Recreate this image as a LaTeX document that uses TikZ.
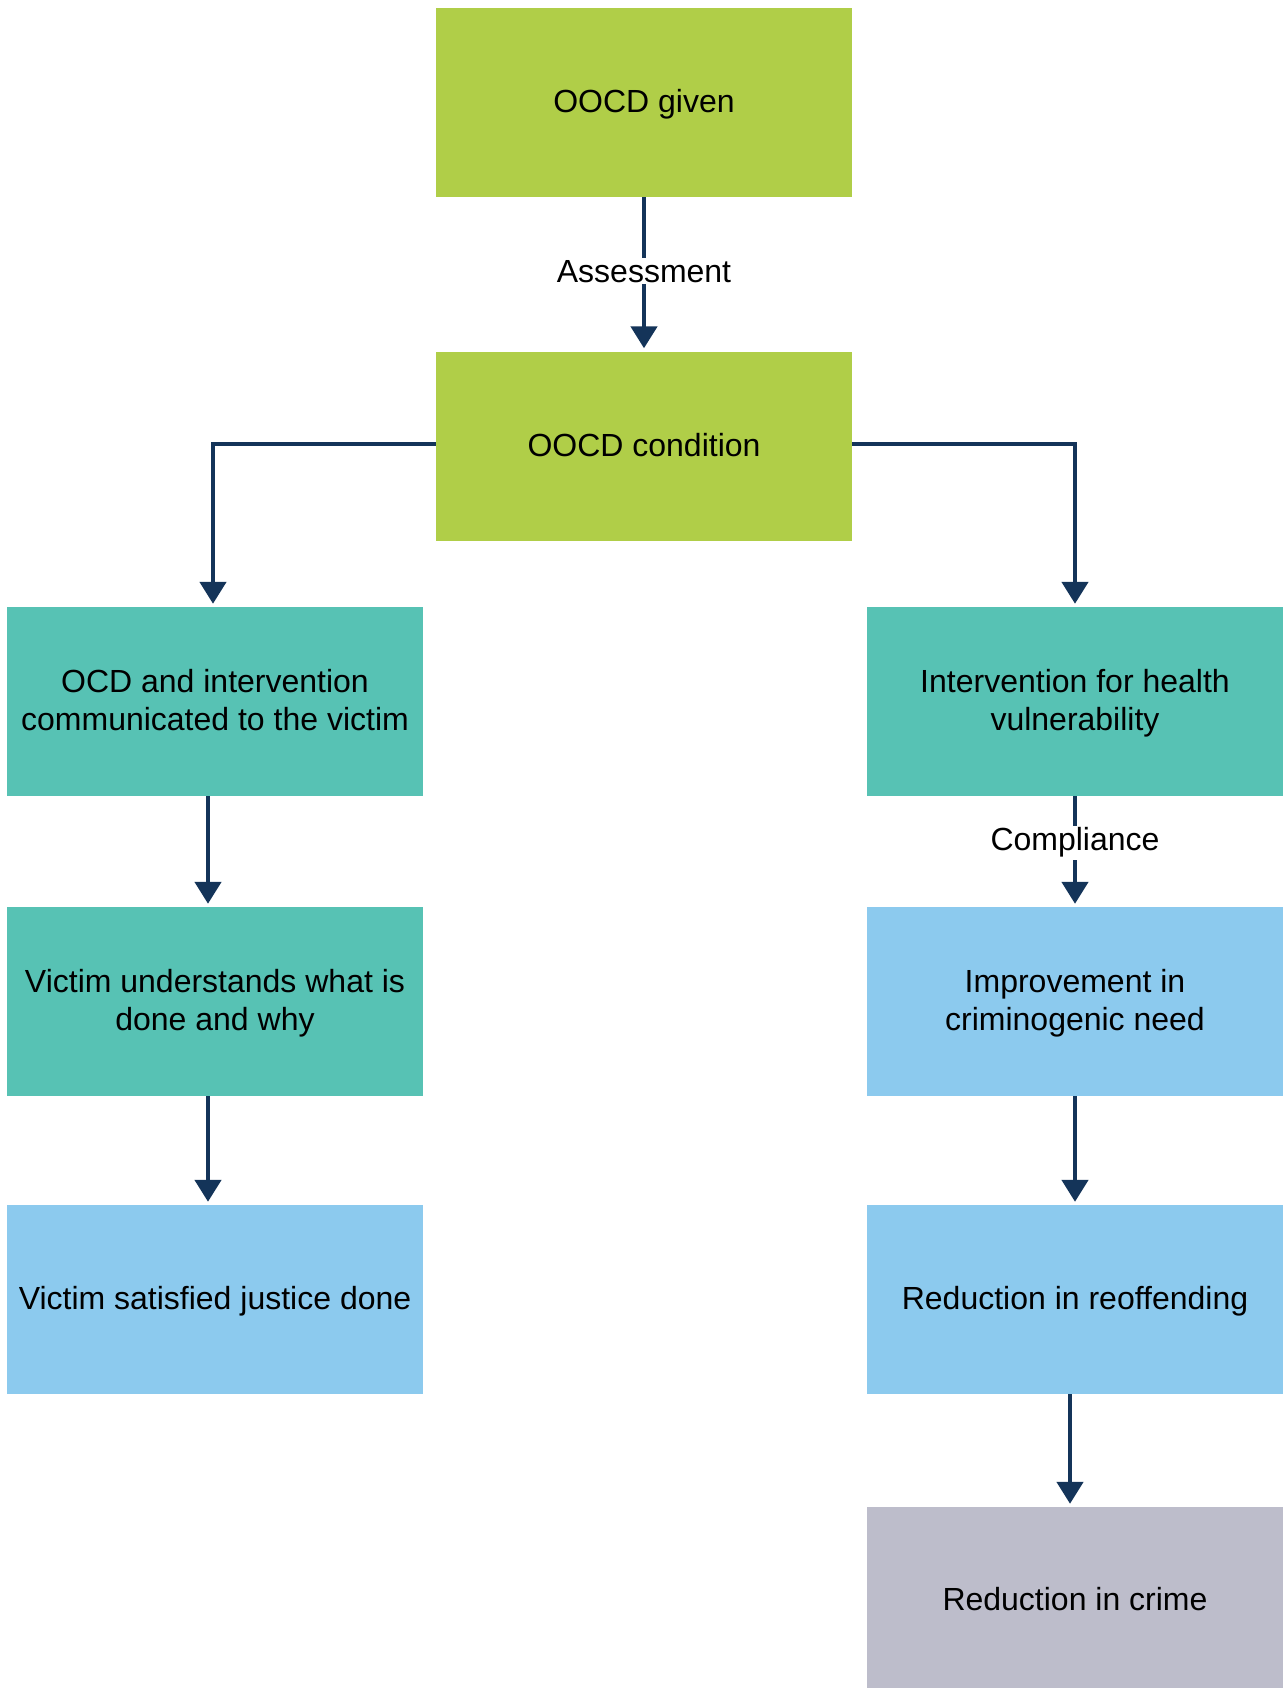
\documentclass[tikz,border=0pt]{standalone}
\usepackage{fontspec}
\setmainfont{Liberation Sans}
\usetikzlibrary{arrows.meta}
\definecolor{cgreen}{HTML}{B0CE48}
\definecolor{cteal}{HTML}{57C2B4}
\definecolor{cblue}{HTML}{8CCAEE}
\definecolor{cgray}{HTML}{BDBDCB}
\definecolor{cnavy}{HTML}{143459}
\newcommand\mys{\rule[-8.9pt]{0pt}{38pt}}
\tikzset{
  box/.style={rectangle, minimum width=416pt, minimum height=189pt, inner sep=0pt,
    align=center, font=\fontsize{32}{38}\selectfont, text=black},
  arr/.style={draw=cnavy, line width=4.6pt, -{Triangle[width=26pt,length=22pt]}, shorten >=3pt},
  lbl/.style={fill=white, inner sep=2pt, font=\fontsize{32}{38}\selectfont, text=black}
}
\begin{document}
\begin{tikzpicture}[x=1pt,y=-1pt]
\useasboundingbox[fill=white] (0,0) rectangle (1285,1688);
\node[box, fill=cgreen] (given) at (644,102.5) {\mys OOCD given};
\node[box, fill=cgreen] (cond) at (644,446) {\mys OOCD condition};
\node[box, fill=cteal] (ocd) at (215,701.5) {\mys OCD and intervention\\\mys communicated to the victim};
\node[box, fill=cteal] (vu) at (215,1001.5) {\mys Victim understands what is\\\mys done and why};
\node[box, fill=cblue] (vs) at (215,1299.5) {\mys Victim satisfied justice done};
\node[box, fill=cteal] (ih) at (1075,701.5) {\mys Intervention for health\\\mys vulnerability};
\node[box, fill=cblue] (imp) at (1075,1001.5) {\mys Improvement in\\\mys criminogenic need};
\node[box, fill=cblue] (ro) at (1075,1299.5) {\mys Reduction in reoffending};
\node[box, fill=cgray, minimum height=186pt] (crime) at (1075,1600) {\mys Reduction in crime};

\draw[arr] (given) -- node[lbl, pos=0.48] {Assessment} (cond);
\draw[arr] ([yshift=2pt]cond.west) -| ([xshift=-2pt]ocd.north);
\draw[arr] ([yshift=2pt]cond.east) -| (ih.north);
\draw[arr] ([xshift=-7pt]ocd.south) -- ([xshift=-7pt]vu.north);
\draw[arr] ([xshift=-7pt]vu.south) -- ([xshift=-7pt]vs.north);
\draw[arr] (ih) -- node[lbl, pos=0.42] {Compliance} (imp);
\draw[arr] (imp) -- (ro);
\draw[arr] ([xshift=-5pt]ro.south) -- ([xshift=-5pt]crime.north);
\end{tikzpicture}
\end{document}
